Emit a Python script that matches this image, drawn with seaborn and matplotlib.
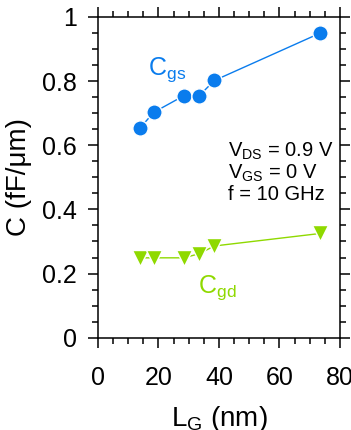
import matplotlib
matplotlib.use("Agg")
import matplotlib.pyplot as plt
from matplotlib.ticker import MultipleLocator
import seaborn as sns
import pandas as pd

# Gate length (nm) and measured capacitances (fF/um)
gate_length = [14, 18.5, 28.5, 33.5, 38.5, 73.5]
c_gs = [0.655, 0.703, 0.755, 0.755, 0.802, 0.950]
c_gd = [0.249, 0.249, 0.249, 0.262, 0.286, 0.325]

blue = "#0a7ced"
green = "#8fd900"

sns.set_theme(style="ticks")
plt.rcParams["font.family"] = ["Liberation Sans", "DejaVu Sans"]
plt.rcParams["mathtext.fontset"] = "custom"
plt.rcParams["mathtext.rm"] = "Liberation Sans"
plt.rcParams["mathtext.it"] = "Liberation Sans:italic"
plt.rcParams["text.color"] = "black"
plt.rcParams["axes.labelcolor"] = "black"
plt.rcParams["xtick.color"] = "black"
plt.rcParams["ytick.color"] = "black"

df = pd.DataFrame({"L": gate_length, "Cgs": c_gs, "Cgd": c_gd})

fig = plt.figure(figsize=(3.51, 4.30), dpi=100)
ax = fig.add_axes([0.279, 0.2147, 0.6897, 0.7458])

sns.lineplot(data=df, x="L", y="Cgs", ax=ax, color=blue, lw=1.0,
             marker="o", markersize=11, markeredgecolor="white",
             markeredgewidth=1.0, markerfacecolor=blue)
sns.lineplot(data=df, x="L", y="Cgd", ax=ax, color=green, lw=1.0,
             marker="v", markersize=11, markeredgecolor="white",
             markeredgewidth=1.0, markerfacecolor=green)

ax.set_xlim(0, 80)
ax.set_ylim(0, 1)
ax.xaxis.set_minor_locator(MultipleLocator(5))
ax.yaxis.set_minor_locator(MultipleLocator(0.05))
ax.set_xticks([0, 20, 40, 60, 80])
ax.set_xticklabels(["0", "20", "40", "60", "80"])
ax.set_yticks([0, 0.2, 0.4, 0.6, 0.8, 1.0])
ax.set_yticklabels(["0", "0.2", "0.4", "0.6", "0.8", "1"])

for side in ["top", "right", "bottom", "left"]:
    ax.spines[side].set_visible(True)
    ax.spines[side].set_linewidth(1.1)
    ax.spines[side].set_color("black")

ax.tick_params(which="both", direction="out", color="black", width=1.1,
               labelcolor="black", top=True, right=True,
               labeltop=False, labelright=False)
ax.tick_params(which="major", length=7.2, labelsize=18)
ax.tick_params(which="minor", length=4.3)
ax.tick_params(axis="x", which="major", pad=13)
ax.tick_params(axis="y", which="major", pad=8)

ax.set_xlabel(r"$\mathregular{L_G}$ (nm)", fontsize=20, labelpad=10)
ax.set_ylabel("C (fF/μm)", fontsize=20, labelpad=7)

ax.text(16.5, 0.819, r"$\mathregular{C_{gs}}$", color=blue, fontsize=18,
        ha="left", va="baseline")
ax.text(33.1, 0.14, r"$\mathregular{C_{gd}}$", color=green, fontsize=18,
        ha="left", va="baseline")

ax.text(43, 0.564, r"$\mathregular{V_{DS}}$ = 0.9 V", fontsize=14.5,
        ha="left", va="baseline")
ax.text(43, 0.497, r"$\mathregular{V_{GS}}$ = 0 V", fontsize=14.5,
        ha="left", va="baseline")
ax.text(43, 0.429, "f = 10 GHz", fontsize=14.5, ha="left", va="baseline")

fig.savefig("out.png", dpi=100)
